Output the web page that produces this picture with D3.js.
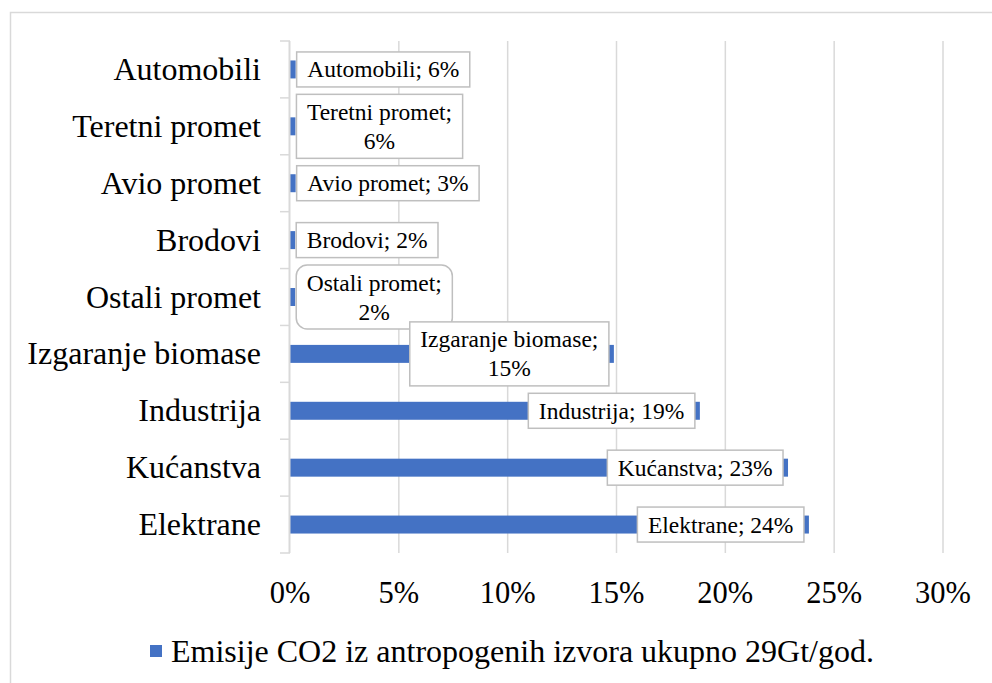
<!DOCTYPE html>
<html>
<head>
<meta charset="utf-8">
<script src="https://cdn.jsdelivr.net/npm/d3@7"></script>
<style>
  body { margin: 0; background: #fff; }
  svg text { font-family: 'Liberation Serif', 'Times New Roman', Times, 'DejaVu Serif', serif; }
</style>
</head>
<body>
<svg width="992" height="683"></svg>
<script>
const categories = ['Automobili', 'Teretni promet', 'Avio promet', 'Brodovi', 'Ostali promet',
                    'Izgaranje biomase', 'Industrija', 'Kućanstva', 'Elektrane'];
// bar lengths as drawn (fractions)
const values = [0.0026, 0.0025, 0.0026, 0.0024, 0.0024, 0.1488, 0.1883, 0.2288, 0.2384];
// percentages printed in the data labels
const labelPct = [6, 6, 3, 2, 2, 15, 19, 23, 24];
const wrapped = ['Teretni promet', 'Ostali promet', 'Izgaranje biomase'];
const xTicks = [0, 0.05, 0.10, 0.15, 0.20, 0.25, 0.30];
const seriesName = 'Emisije CO2 iz antropogenih izvora ukupno 29Gt/god.';

const svg = d3.select('svg');
const grey = '#d9d9d9';
const barColor = '#4472c4';
const serif = "'Liberation Serif', 'Times New Roman', Times, serif";

// outer chart border
svg.append('rect')
    .attr('x', 10.5).attr('y', 12.5)
    .attr('width', 1000).attr('height', 700)
    .attr('fill', '#fff')
    .attr('stroke', grey).attr('stroke-width', 1.5);

const x = d3.scaleLinear().domain([0, 0.30]).range([290, 943]);
const y = d3.scaleBand().domain(categories).range([41, 553])
            .paddingInner(0.684).paddingOuter(0.342);

// gridlines
svg.append('g')
    .selectAll('line')
    .data(xTicks.slice(1))
    .join('line')
    .attr('x1', d => x(d)).attr('x2', d => x(d))
    .attr('y1', 41).attr('y2', 553)
    .attr('stroke', grey).attr('stroke-width', 1.5);

// bars
svg.append('g')
    .selectAll('rect')
    .data(categories)
    .join('rect')
    .attr('x', x(0))
    .attr('y', d => y(d))
    .attr('width', (d, i) => x(values[i]) - x(0))
    .attr('height', y.bandwidth())
    .attr('fill', barColor);

// category axis with ticks at band boundaries
const step = y.step();
const bounds = d3.range(categories.length + 1).map(i => 41 + i * step);
const axisG = svg.append('g');
axisG.append('line')
    .attr('x1', x(0) - 0.5).attr('x2', x(0) - 0.5)
    .attr('y1', 41).attr('y2', 553)
    .attr('stroke', grey).attr('stroke-width', 2);
axisG.selectAll('line.tick')
    .data(bounds)
    .join('line')
    .attr('class', 'tick')
    .attr('x1', x(0) - 10).attr('x2', x(0))
    .attr('y1', d => d).attr('y2', d => d)
    .attr('stroke', grey).attr('stroke-width', 1.5);

axisG.selectAll('text')
    .data(categories)
    .join('text')
    .attr('x', 261)
    .attr('y', d => y(d) + y.bandwidth() / 2)
    .attr('dy', '0.33em')
    .attr('text-anchor', 'end')
    .attr('font-family', serif)
    .attr('font-size', 32)
    .attr('fill', '#000')
    .text(d => d);

// value axis labels
svg.append('g')
    .selectAll('text')
    .data(xTicks)
    .join('text')
    .attr('x', d => x(d))
    .attr('y', 603)
    .attr('text-anchor', 'middle')
    .attr('font-family', serif)
    .attr('font-size', 30.5)
    .attr('fill', '#000')
    .text(d3.format('.0%'));

// data labels
const fs = 23.5;
const lineH = 29;
const labels = svg.append('g');
categories.forEach((c, i) => {
    const lines = wrapped.includes(c)
        ? [c + ';', labelPct[i] + '%']
        : [c + '; ' + labelPct[i] + '%'];
    const cy = y(c) + y.bandwidth() / 2;
    const g = labels.append('g');
    const box = g.append('rect');
    const txt = g.append('text')
        .attr('font-family', serif)
        .attr('font-size', fs)
        .attr('text-anchor', 'middle')
        .attr('fill', '#000');
    lines.forEach((l, k) => {
        txt.append('tspan')
            .attr('x', 0)
            .attr('y', cy + (k - (lines.length - 1) / 2) * lineH + 8)
            .text(l);
    });
    const tw = d3.max(txt.selectAll('tspan').nodes(), n => n.getComputedTextLength());
    const bw = tw + 21;
    const bh = lines.length * lineH + 6;
    const left = values[i] < 0.05 ? x(values[i]) + 1 : x(values[i]) - 5 - bw;
    txt.selectAll('tspan').attr('x', left + bw / 2);
    box.attr('x', left).attr('y', cy - bh / 2)
        .attr('width', bw).attr('height', bh)
        .attr('rx', c === 'Ostali promet' ? 11 : 0)
        .attr('fill', '#fff')
        .attr('stroke', '#bfbfbf').attr('stroke-width', 1.5);
});

// legend
const legend = svg.append('g');
legend.append('rect')
    .attr('x', 150).attr('y', 645)
    .attr('width', 12).attr('height', 12)
    .attr('fill', barColor);
legend.append('text')
    .attr('x', 171).attr('y', 662)
    .attr('font-family', serif)
    .attr('font-size', 32)
    .attr('fill', '#000')
    .text(seriesName);
</script>
</body>
</html>
